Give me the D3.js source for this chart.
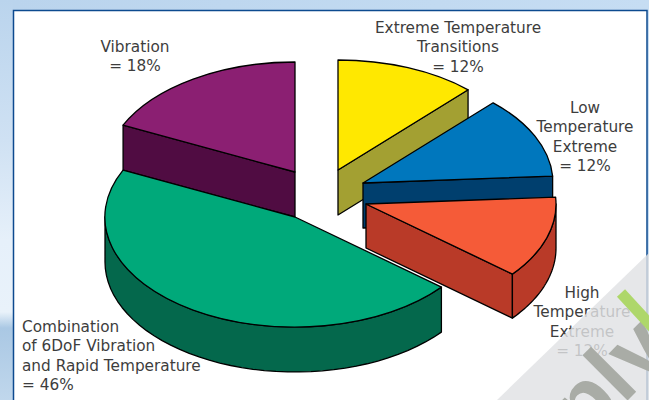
<!DOCTYPE html>
<html>
<head>
<meta charset="utf-8">
<script src="https://cdn.jsdelivr.net/npm/d3@7"></script>
<style>
  html, body { margin: 0; padding: 0; background: #fff; }
  svg { display: block; }
  text { font-family: "DejaVu Sans", sans-serif; font-size: 15.3px; fill: #3d3d3d; }
</style>
</head>
<body>
<script>
/* Chart data */
var categories = ["Extreme Temperature Transitions", "Low Temperature Extreme", "High Temperature Extreme",
  "Combination of 6DoF Vibration and Rapid Temperature", "Vibration"];
var values = [12, 12, 12, 46, 18];
var labelLines = [
  ["Extreme Temperature", "Transitions", "= 12%"],
  ["Low", "Temperature", "Extreme", "= 12%"],
  ["High", "Temperature", "Extreme", "= 12%"],
  ["Combination", "of 6DoF Vibration", "and Rapid Temperature", "= 46%"],
  ["Vibration", "= 18%"]
];

/* Layout and colours, one entry per slice */
var width = 649, height = 400;
var rx = 190, ry = 110;
var centers = [[338, 170], [363, 183], [366, 204], [295, 217], [295, 172]];
var depths = [45, 45, 44, 45, 45];
var labelPos = [[458, 33, "middle"], [585, 113, "middle"], [582, 298, "middle"], [22, 332, "start"], [135, 52, "middle"]];
var topColours = ["#ffe800", "#0077bd", "#f55b38", "#00a97a", "#8b1f72"];
var sideColours = ["#a3a032", "#003f6e", "#b93a28", "#04684c", "#500c42"];
var drawOrder = [0, 1, 2, 4, 3];
var lineHeight = 19.3;

var svg = d3.select("body").append("svg").attr("width", width).attr("height", height);
var defs = svg.append("defs");

/* Page background */
var leftGrad = defs.append("linearGradient").attr("id", "bgLeft")
  .attr("x1", 0).attr("y1", 0).attr("x2", 0).attr("y2", 1);
[[0, "#bad4ed"], [0.35, "#cfe1f3"], [0.6, "#e6f0fa"], [0.78, "#e9f2fa"], [0.82, "#aac8e4"], [1, "#c0d7ec"]].forEach(function(s) {
  leftGrad.append("stop").attr("offset", s[0]).attr("stop-color", s[1]);
});
var topGrad = defs.append("linearGradient").attr("id", "bgTop");
topGrad.append("stop").attr("offset", 0).attr("stop-color", "#bad4ed");
topGrad.append("stop").attr("offset", 1).attr("stop-color", "#c6ddf3");

svg.append("rect").attr("width", width).attr("height", height).attr("fill", "url(#bgLeft)");
svg.append("rect").attr("x", 13).attr("width", width - 13).attr("height", 11).attr("fill", "url(#bgTop)");
svg.append("rect").attr("x", 647).attr("width", 2).attr("height", height).attr("fill", "#c6ddf3");
svg.append("rect").attr("x", 13.5).attr("y", 10.5).attr("width", 633.5).attr("height", height)
  .attr("fill", "#fff").attr("stroke", "#0d4a8f").attr("stroke-width", 1.5);

/* Pie angles, clockwise from 12 o'clock */
var slices = d3.pie().sort(null)(values);
var arc = d3.arc().innerRadius(0).outerRadius(1);

function px(a) { return rx * Math.sin(a); }
function py(a) { return -ry * Math.cos(a); }

function flatWall(a, h) {
  return d3.line()([[0, 0], [px(a), py(a)], [px(a), py(a) + h], [0, h]]) + "Z";
}

function arcAngles(a0, a1) {
  var n = 40;
  return d3.range(n + 1).map(function(i) { return a0 + (a1 - a0) * i / n; });
}

var lineStyle = function(sel) {
  sel.attr("stroke", "#000").attr("stroke-width", 1.3).attr("stroke-linejoin", "round");
};

drawOrder.forEach(function(i) {
  var d = slices[i];
  var h = depths[i];
  var g = svg.append("g").attr("transform", "translate(" + centers[i][0] + "," + centers[i][1] + ")");

  // cut faces that can be seen from the front
  if (i === 0 || i === 1 || i === 2) {
    g.append("path").attr("d", flatWall(d.endAngle, h)).attr("fill", sideColours[i]).call(lineStyle);
  }
  if (i === 4) {
    g.append("path").attr("d", flatWall(d.startAngle, h)).attr("fill", sideColours[i]).call(lineStyle);
  }

  // outer wall, only the part on the near half of the ellipse
  var a0 = Math.max(d.startAngle, Math.PI / 2);
  var a1 = Math.min(d.endAngle, Math.PI * 3 / 2);
  if (a1 > a0) {
    var wall = d3.area().x(function(a) { return px(a); }).y0(function(a) { return py(a); })
      .y1(function(a) { return py(a) + h; });
    g.append("path").attr("d", wall(arcAngles(a0, a1)) + "Z").attr("fill", sideColours[i]).call(lineStyle);
  }

  // top surface
  g.append("path").attr("d", arc(d))
    .attr("transform", "scale(" + rx + "," + ry + ")")
    .attr("vector-effect", "non-scaling-stroke")
    .attr("fill", topColours[i]).call(lineStyle);
});

/* Labels */
categories.forEach(function(c, i) {
  var t = svg.append("text").attr("text-anchor", labelPos[i][2]);
  labelLines[i].forEach(function(line, j) {
    t.append("tspan").attr("x", labelPos[i][0]).attr("y", labelPos[i][1] + j * lineHeight).text(line);
  });
});

/* Watermark in the lower right corner */
var corner = [[649, 253], [649, 400], [497, 400]];
defs.append("clipPath").attr("id", "cornerClip").append("path").attr("d", d3.line()(corner) + "Z");
svg.append("path").attr("d", d3.line()(corner) + "Z").attr("fill", "#e1e2e4").attr("opacity", 0.82);
var mark = svg.append("g").attr("clip-path", "url(#cornerClip)");
mark.append("text").attr("transform", "translate(530,498) rotate(-45)")
  .style("font-size", "88px").style("font-weight", "bold").style("font-family", "Liberation Sans, sans-serif").style("fill", "#a9aca6")
  .text("mply");
mark.append("line").attr("x1", 621).attr("y1", 293).attr("x2", 655).attr("y2", 330)
  .attr("stroke", "#aed76a").attr("stroke-width", 11);
</script>
</body>
</html>
